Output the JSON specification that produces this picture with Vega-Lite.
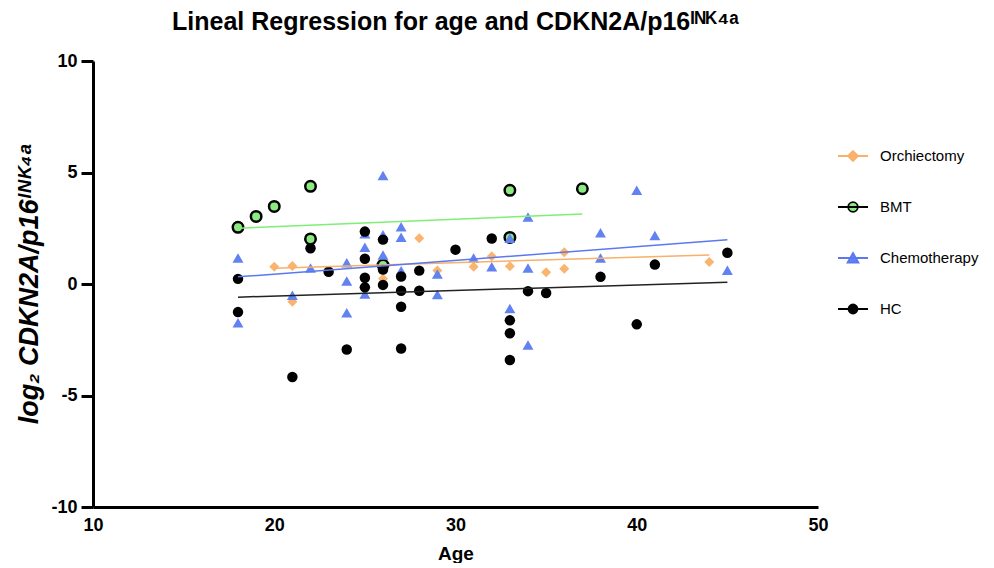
{
  "$schema": "https://vega.github.io/schema/vega-lite/v6.json",
  "width": 725,
  "height": 446,
  "padding": {"left": 15, "top": 10, "right": 0, "bottom": 0},
  "background": "white",
  "title": {
    "text": "Lineal Regression for age and CDKN2A/p16ᴵᴺᴷ⁴ᵃ",
    "anchor": "middle",
    "font": "Liberation Sans",
    "fontSize": 25,
    "fontWeight": "bold",
    "color": "black",
    "offset": 17
  },
  "config": {
    "view": {"stroke": null},
    "axis": {
      "domainColor": "black",
      "domainWidth": 3,
      "grid": false,
      "labelFlush": false,
      "labelFont": "Liberation Sans",
      "labelFontSize": 18,
      "labelFontWeight": "bold",
      "labelColor": "black",
      "tickColor": "black",
      "tickWidth": 3,
      "titleFont": "Liberation Sans",
      "titleColor": "black",
      "titleFontWeight": "bold"
    },
    "legend": {
      "labelFont": "Liberation Sans",
      "labelFontSize": 15,
      "labelColor": "black"
    }
  },
  "datasets": {
    "points": [
      {"group": "Orchiectomy", "age": 20, "value": 0.77},
      {"group": "Orchiectomy", "age": 21, "value": 0.81},
      {"group": "Orchiectomy", "age": 21, "value": -0.8},
      {"group": "Orchiectomy", "age": 26, "value": 0.23},
      {"group": "Orchiectomy", "age": 28, "value": 2.05},
      {"group": "Orchiectomy", "age": 29, "value": 0.6},
      {"group": "Orchiectomy", "age": 31, "value": 0.77},
      {"group": "Orchiectomy", "age": 32, "value": 1.24},
      {"group": "Orchiectomy", "age": 33, "value": 0.8},
      {"group": "Orchiectomy", "age": 35, "value": 0.53},
      {"group": "Orchiectomy", "age": 36, "value": 1.42},
      {"group": "Orchiectomy", "age": 36, "value": 0.68},
      {"group": "Orchiectomy", "age": 44, "value": 0.99},
      {"group": "BMT", "age": 18, "value": 2.54},
      {"group": "BMT", "age": 19, "value": 3.03},
      {"group": "BMT", "age": 20, "value": 3.48},
      {"group": "BMT", "age": 22, "value": 4.38},
      {"group": "BMT", "age": 22, "value": 2.02},
      {"group": "BMT", "age": 26, "value": 0.85},
      {"group": "BMT", "age": 33, "value": 4.2},
      {"group": "BMT", "age": 33, "value": 2.09},
      {"group": "BMT", "age": 37, "value": 4.27},
      {"group": "Chemotherapy", "age": 18, "value": 1.17},
      {"group": "Chemotherapy", "age": 18, "value": -1.74},
      {"group": "Chemotherapy", "age": 21, "value": -0.5},
      {"group": "Chemotherapy", "age": 22, "value": 0.72},
      {"group": "Chemotherapy", "age": 24, "value": 0.95},
      {"group": "Chemotherapy", "age": 24, "value": 0.13},
      {"group": "Chemotherapy", "age": 24, "value": -1.29},
      {"group": "Chemotherapy", "age": 25, "value": 2.25},
      {"group": "Chemotherapy", "age": 25, "value": 1.65},
      {"group": "Chemotherapy", "age": 25, "value": -0.45},
      {"group": "Chemotherapy", "age": 26, "value": 4.87},
      {"group": "Chemotherapy", "age": 26, "value": 2.21},
      {"group": "Chemotherapy", "age": 26, "value": 1.3},
      {"group": "Chemotherapy", "age": 27, "value": 2.57},
      {"group": "Chemotherapy", "age": 27, "value": 2.1},
      {"group": "Chemotherapy", "age": 27, "value": 0.6},
      {"group": "Chemotherapy", "age": 29, "value": 0.45},
      {"group": "Chemotherapy", "age": 29, "value": -0.47},
      {"group": "Chemotherapy", "age": 31, "value": 1.17},
      {"group": "Chemotherapy", "age": 32, "value": 0.77},
      {"group": "Chemotherapy", "age": 33, "value": 2.05},
      {"group": "Chemotherapy", "age": 33, "value": -1.1},
      {"group": "Chemotherapy", "age": 34, "value": 3.0},
      {"group": "Chemotherapy", "age": 34, "value": 0.72},
      {"group": "Chemotherapy", "age": 34, "value": -2.74},
      {"group": "Chemotherapy", "age": 38, "value": 2.3},
      {"group": "Chemotherapy", "age": 38, "value": 1.17},
      {"group": "Chemotherapy", "age": 40, "value": 4.2},
      {"group": "Chemotherapy", "age": 41, "value": 2.18},
      {"group": "Chemotherapy", "age": 45, "value": 0.62},
      {"group": "HC", "age": 18, "value": 0.23},
      {"group": "HC", "age": 18, "value": -1.26},
      {"group": "HC", "age": 21, "value": -4.17},
      {"group": "HC", "age": 22, "value": 1.6},
      {"group": "HC", "age": 23, "value": 0.55},
      {"group": "HC", "age": 24, "value": -2.94},
      {"group": "HC", "age": 25, "value": 2.35},
      {"group": "HC", "age": 25, "value": 1.13},
      {"group": "HC", "age": 25, "value": 0.28},
      {"group": "HC", "age": 25, "value": -0.15},
      {"group": "HC", "age": 26, "value": 1.99},
      {"group": "HC", "age": 26, "value": 0.65},
      {"group": "HC", "age": 26, "value": -0.04},
      {"group": "HC", "age": 27, "value": 0.34},
      {"group": "HC", "age": 27, "value": -0.3},
      {"group": "HC", "age": 27, "value": -1.02},
      {"group": "HC", "age": 27, "value": -2.89},
      {"group": "HC", "age": 28, "value": 0.6},
      {"group": "HC", "age": 28, "value": -0.3},
      {"group": "HC", "age": 30, "value": 1.54},
      {"group": "HC", "age": 32, "value": 2.04},
      {"group": "HC", "age": 33, "value": -1.63},
      {"group": "HC", "age": 33, "value": -2.21},
      {"group": "HC", "age": 33, "value": -3.41},
      {"group": "HC", "age": 34, "value": -0.32},
      {"group": "HC", "age": 35, "value": -0.4},
      {"group": "HC", "age": 38, "value": 0.32},
      {"group": "HC", "age": 40, "value": -1.81},
      {"group": "HC", "age": 41, "value": 0.87},
      {"group": "HC", "age": 45, "value": 1.4}
    ],
    "fits": [
      {"group": "Orchiectomy", "age": 20, "value": 0.71},
      {"group": "Orchiectomy", "age": 44, "value": 1.3},
      {"group": "BMT", "age": 18, "value": 2.5},
      {"group": "BMT", "age": 37, "value": 3.14},
      {"group": "Chemotherapy", "age": 18, "value": 0.32},
      {"group": "Chemotherapy", "age": 45, "value": 1.98},
      {"group": "HC", "age": 18, "value": -0.59},
      {"group": "HC", "age": 45, "value": 0.08}
    ]
  },
  "encoding": {
    "x": {
      "field": "age",
      "type": "quantitative",
      "scale": {"domain": [10, 50], "nice": false, "zero": false},
      "axis": {
        "values": [10, 20, 30, 40, 50],
        "ticks": false,
        "labelPadding": 9,
        "title": "Age",
        "titleFontSize": 19,
        "titlePadding": 10
      }
    },
    "y": {
      "field": "value",
      "type": "quantitative",
      "scale": {"domain": [-10, 10], "nice": false, "zero": false},
      "axis": {
        "values": [-10, -5, 0, 5, 10],
        "labelExpr": "replace(datum.label, '−', '-')",
        "tickSize": 12,
        "labelPadding": 4,
        "title": "log₂ CDKN2A/p16ᴵᴺᴷ⁴ᵃ",
        "titleFontStyle": "italic",
        "titleFontSize": 27,
        "titlePadding": 7
      }
    }
  },
  "layer": [
    {
      "data": {"values": [{"level": 0}]},
      "mark": {"type": "rule", "color": "black", "strokeWidth": 2.2, "strokeDash": [2, 3.7]},
      "encoding": {"y": {"field": "level", "type": "quantitative"}}
    },
    {
      "data": {"name": "points"},
      "transform": [{"filter": "datum.group == 'Orchiectomy'"}],
      "mark": {"type": "point", "shape": "diamond", "filled": true, "color": "#F9B46F", "size": 100, "opacity": 1}
    },
    {
      "data": {"name": "points"},
      "transform": [{"filter": "datum.group == 'BMT'"}],
      "mark": {"type": "point", "shape": "circle", "filled": true, "fill": "#8BEB82", "stroke": "black", "strokeWidth": 2.5, "size": 110, "opacity": 1}
    },
    {
      "data": {"name": "points"},
      "transform": [{"filter": "datum.group == 'Chemotherapy'"}],
      "mark": {"type": "point", "shape": "triangle-up", "filled": true, "color": "#6282F2", "size": 120, "opacity": 1}
    },
    {
      "data": {"name": "points"},
      "transform": [{"filter": "datum.group == 'HC'"}],
      "mark": {"type": "point", "shape": "circle", "filled": true, "color": "black", "size": 110, "opacity": 1}
    },
    {
      "data": {"name": "fits"},
      "transform": [{"filter": "datum.group == 'Orchiectomy'"}],
      "mark": {"type": "line", "strokeWidth": 1.5, "color": "#F8B06A"}
    },
    {
      "data": {"name": "fits"},
      "transform": [{"filter": "datum.group == 'BMT'"}],
      "mark": {"type": "line", "strokeWidth": 1.5, "color": "#7FEF75"}
    },
    {
      "data": {"name": "fits"},
      "transform": [{"filter": "datum.group == 'Chemotherapy'"}],
      "mark": {"type": "line", "strokeWidth": 1.5, "color": "#5A78F0"}
    },
    {
      "data": {"name": "fits"},
      "transform": [{"filter": "datum.group == 'HC'"}],
      "mark": {"type": "line", "strokeWidth": 1.5, "color": "#222222"}
    },
    {
      "data": {"name": "fits"},
      "transform": [{"filter": "datum.age > 100"}],
      "mark": {"type": "point", "filled": true, "opacity": 1},
      "encoding": {
        "fill": {
          "field": "group",
          "type": "nominal",
          "scale": {"domain": ["Orchiectomy", "BMT", "Chemotherapy", "HC"], "range": ["#F9B46F", "#8BEB82", "#6282F2", "black"]},
          "legend": {
            "title": null,
            "orient": "none",
            "legendX": 744,
            "legendY": 79,
            "symbolSize": 900,
            "symbolStrokeWidth": 1.8,
            "symbolOpacity": 1,
            "rowPadding": 26,
            "labelOffset": 11,
            "padding": 0
          }
        },
        "stroke": {
          "field": "group",
          "type": "nominal",
          "scale": {"domain": ["Orchiectomy", "BMT", "Chemotherapy", "HC"], "range": ["#F8B06A", "black", "#5A78F0", "black"]}
        },
        "shape": {
          "field": "group",
          "type": "nominal",
          "scale": {
            "domain": ["Orchiectomy", "BMT", "Chemotherapy", "HC"],
            "range": [
              "M-1,0H1M0,-0.33L0.33,0L0,0.33L-0.33,0Z",
              "M-1,0H1M0.32,0A0.32,0.32,0,1,1,-0.32,0A0.32,0.32,0,1,1,0.32,0Z",
              "M-1,0H1M0,-0.33L0.36,0.3L-0.36,0.3Z",
              "M-1,0H1M0.3,0A0.3,0.3,0,1,1,-0.3,0A0.3,0.3,0,1,1,0.3,0Z"
            ]
          }
        }
      }
    }
  ]
}
